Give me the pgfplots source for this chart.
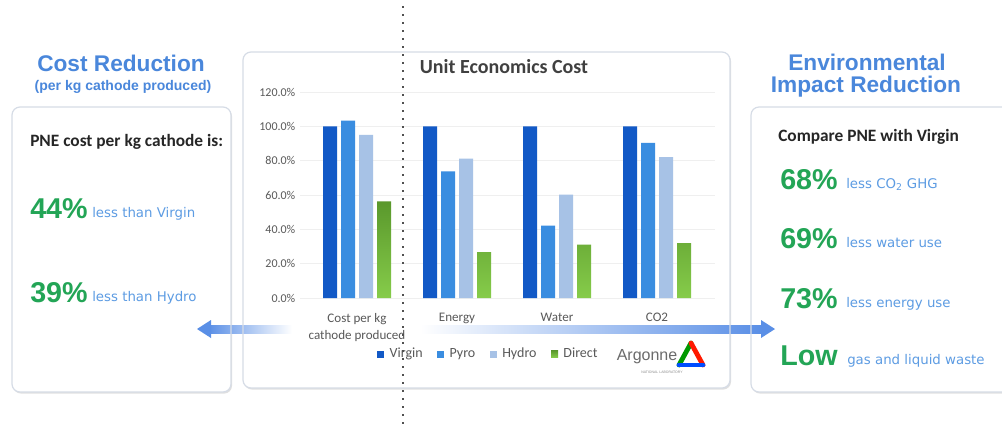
\documentclass[border=0pt]{standalone}
\usepackage{fontspec}
\setmainfont{Liberation Sans}
\newfontfamily\carlito{Carlito}
\newfontfamily\dvs{DejaVu Sans}
\usepackage{pgfplots}
\pgfplotsset{compat=1.18}
\usetikzlibrary{shadows}

\definecolor{virgin}{HTML}{1259C6}
\definecolor{pyro}{HTML}{3A8DE0}
\definecolor{hydro}{HTML}{A7C2E6}
\definecolor{directtop}{HTML}{5A982C}
\definecolor{directbot}{HTML}{86CC4A}
\definecolor{titleblue}{HTML}{4A87DB}
\definecolor{descblue}{HTML}{5D9CE3}
\definecolor{pctgreen}{HTML}{23A556}
\definecolor{darktext}{HTML}{262626}
\definecolor{unittitle}{HTML}{404040}
\definecolor{labelgray}{HTML}{595959}
\definecolor{gridgray}{HTML}{EFEFEF}
\definecolor{boxborder}{HTML}{D6DCE6}
\definecolor{arrowblue}{HTML}{5A8FE6}
\definecolor{dotgray}{HTML}{505050}

\begin{document}
\begin{tikzpicture}
\begin{scope}[x=0.75pt,y=-0.75pt]
  \fill[white] (0,0) rectangle (1002,426);
  \tikzset{panel/.style={rounded corners=6pt, fill=white,
      drop shadow={shadow xshift=0.8pt, shadow yshift=-1.2pt, opacity=0.12, fill=black}}}
  \path[panel] (12,107) rectangle (231,392);
  \path[panel] (243,52) rectangle (730,388);
  \path[panel] (751,107) rectangle (1012,392);
\end{scope}

\begin{axis}[
    at={(225pt,-223.5pt)}, anchor=south west,
    scale only axis, width=311.25pt, height=154.5pt,
    xmin=-0.57, xmax=3.58, ymin=0, ymax=120,
    ybar=3pt, bar width=10.5pt,
    xtick={0,1,2,3},
    xticklabels={{Cost per kg\\cathode produced},Energy,Water,CO2},
    xticklabel style={align=center, font=\carlito\fontsize{9.8}{12.5}\selectfont,
        text=labelgray, yshift=-8pt},
    ytick={0,20,40,60,80,100,120},
    yticklabel={\pgfmathprintnumber[fixed,fixed zerofill,precision=1]{\tick}\%},
    yticklabel style={font=\carlito\fontsize{9}{10}\selectfont, text=labelgray},
    /pgf/number format/assume math mode=true,
    axis line style={draw=none},
    major tick length=0pt,
    ymajorgrids, grid style={draw=gridgray, line width=0.6pt},
    legend style={at={(0.455,-0.272)}, anchor=center, draw=none, fill=none,
        legend columns=4, font=\carlito\fontsize{10.5}{12}\selectfont, text=labelgray,
        /tikz/every even column/.append style={column sep=9pt}},
    legend image code/.code={\fill[#1] (0pt,-2.6pt) rectangle (5.2pt,2.6pt); \path (7.2pt,0pt);},
]
\addplot[draw=none, fill=virgin] coordinates {(0,100) (1,100) (2,100) (3,100)};
\addplot[draw=none, fill=pyro] coordinates {(0,103.3) (1,73.8) (2,42.1) (3,90.3)};
\addplot[draw=none, fill=hydro] coordinates {(0,95.1) (1,81.2) (2,60.2) (3,82.1)};
\addplot[draw=none, top color=directtop, bottom color=directbot] coordinates {(0,56.3) (1,26.8) (2,31.1) (3,32.0)};
\legend{Virgin,Pyro,Hydro,Direct}
\end{axis}

\begin{scope}[x=0.75pt,y=-0.75pt]
  % arrows
  \shade[left color=arrowblue, right color=white] (208,325) rectangle (292,333);
  \fill[arrowblue] (197,329) -- (211,320) -- (211,338) -- cycle;
  \shade[left color=white, right color=arrowblue] (420,325) rectangle (762,333);
  \fill[arrowblue] (775,329) -- (761,320) -- (761,338) -- cycle;
  % box borders
  \draw[boxborder, line width=0.9pt, rounded corners=6pt] (12,107) rectangle (231,392);
  \draw[boxborder, line width=0.9pt, rounded corners=6pt] (243,52) rectangle (730,388);
  \draw[boxborder, line width=0.9pt, rounded corners=6pt] (751,107) rectangle (1012,392);
  % dotted divider
  \draw[dotgray, line width=2.2pt, dash pattern=on 1.6pt off 4.4pt] (403,6) -- (403,426);

  % left panel
  \node[titleblue, font=\fontsize{17}{19}\bfseries\selectfont] at (121,63) {Cost Reduction};
  \node[titleblue, font=\fontsize{10.5}{12}\bfseries\selectfont] at (123,87) {(per kg cathode produced)};
  \node[darktext, anchor=west, inner sep=0pt, font=\carlito\fontsize{13}{15}\bfseries\selectfont] at (30,142) {PNE cost per kg cathode is:};
  \node[pctgreen, anchor=base west, inner sep=0pt, font=\fontsize{21.5}{24}\bfseries\selectfont] at (30,218) {44\%};
  \node[descblue, anchor=base west, inner sep=0pt, font=\dvs\fontsize{10}{11}\selectfont] at (92,217) {less than Virgin};
  \node[pctgreen, anchor=base west, inner sep=0pt, font=\fontsize{21.5}{24}\bfseries\selectfont] at (30,302) {39\%};
  \node[descblue, anchor=base west, inner sep=0pt, font=\dvs\fontsize{10}{11}\selectfont] at (92,301) {less than Hydro};

  % center panel
  \node[unittitle, font=\carlito\fontsize{15}{17}\bfseries\selectfont] at (504,67) {Unit Economics Cost};
  % Argonne logo
  \node[text=black!58, inner sep=0pt, font=\fontsize{12}{13}\selectfont] at (647,357) {Argonne};
  \node[text=black!45, inner sep=0pt, font=\fontsize{2.6}{3}\selectfont] at (662,372) {NATIONAL LABORATORY};
  \draw[green!60!black, line width=3.6pt, line cap=round] (679,365) -- (691,343);
  \draw[red!80!orange, line width=3.6pt, line cap=round] (691,343) -- (703,365);
  \draw[blue!70!cyan, line width=3.6pt, line cap=round] (703,365) -- (679,365);

  % right panel
  \node[titleblue, font=\fontsize{17}{19}\bfseries\selectfont] at (867,62) {Environmental};
  \node[titleblue, font=\fontsize{17}{19}\bfseries\selectfont] at (866,87) {Impact Reduction};
  \node[darktext, anchor=west, inner sep=0pt, font=\carlito\fontsize{13}{15}\bfseries\selectfont] at (778,137) {Compare PNE with Virgin};
  \node[pctgreen, anchor=base west, inner sep=0pt, font=\fontsize{21.5}{24}\bfseries\selectfont] at (780,189) {68\%};
  \node[descblue, anchor=base west, inner sep=0pt, font=\dvs\fontsize{10}{11}\selectfont] at (846,188) {less CO\textsubscript{2} GHG};
  \node[pctgreen, anchor=base west, inner sep=0pt, font=\fontsize{21.5}{24}\bfseries\selectfont] at (780,248) {69\%};
  \node[descblue, anchor=base west, inner sep=0pt, font=\dvs\fontsize{10}{11}\selectfont] at (846,247) {less water use};
  \node[pctgreen, anchor=base west, inner sep=0pt, font=\fontsize{21.5}{24}\bfseries\selectfont] at (780,308) {73\%};
  \node[descblue, anchor=base west, inner sep=0pt, font=\dvs\fontsize{10}{11}\selectfont] at (846,307) {less energy use};
  \node[pctgreen, anchor=base west, inner sep=0pt, font=\fontsize{21.5}{24}\bfseries\selectfont] at (780,365) {Low};
  \node[descblue, anchor=base west, inner sep=0pt, font=\dvs\fontsize{10}{11}\selectfont] at (847,364) {gas and liquid waste};

  % fix the page to the reference size
  \pgfresetboundingbox
  \useasboundingbox (0,0) rectangle (1002,426);
\end{scope}
\end{tikzpicture}
\end{document}
